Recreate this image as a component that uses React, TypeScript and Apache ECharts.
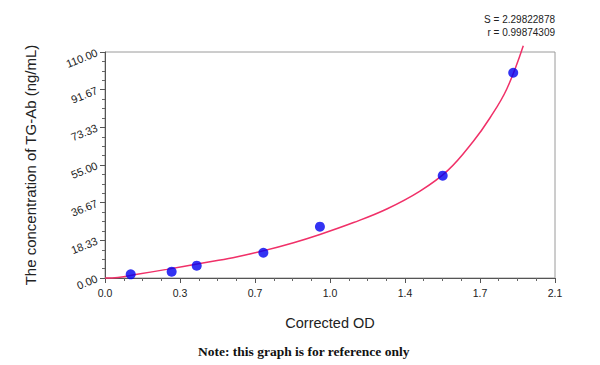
import React, { useEffect, useRef } from "react";
import * as echarts from "echarts";

const xTickLabels = ["0.0", "0.3", "0.7", "1.0", "1.4", "1.7", "2.1"];
const yTickLabels = ["0.00", "18.33", "36.67", "55.00", "73.33", "91.67", "110.00"];

const pointX = [0.12, 0.311, 0.428, 0.739, 1.003, 1.576, 1.905];
const pointY = [1.8, 3.07, 6.0, 12.3, 25.0, 49.8, 99.9];

const curveX = [0, 0.06, 0.15, 0.288, 0.443, 0.597, 0.737, 0.88, 1.003, 1.16, 1.315, 1.47, 1.6, 1.719, 1.797, 1.875, 1.952];
const curveY = [0, 0.3, 1.8, 4.2, 7.1, 9.9, 13.2, 17.2, 21.2, 27.0, 33.6, 42.3, 52.4, 66.6, 78.0, 92.0, 113.0];

const statS = "S = 2.29822878";
const statR = "r = 0.99874309";
const xTitle = "Corrected OD";
const yTitle = "The concentration of TG-Ab (ng/mL)";
const note = "Note: this graph is for reference only";

const X_INTERVAL = 0.35;
const Y_INTERVAL = 110 / 6;

export default function App() {
  const ref = useRef<HTMLDivElement>(null);
  useEffect(() => {
    document.body.style.margin = "0";
    if (!ref.current) return;
    const chart = echarts.init(ref.current, null, { renderer: "svg" });
    const font = "'Liberation Sans', Arial, sans-serif";
    chart.setOption({
      animation: false,
      backgroundColor: "#ffffff",
      grid: {
        left: 105,
        right: 45,
        top: 52,
        bottom: 87,
        show: true,
        borderColor: "#9a9a9a",
        borderWidth: 1,
        containLabel: false,
      },
      xAxis: {
        type: "value",
        min: 0,
        max: 2.1,
        interval: X_INTERVAL,
        name: xTitle,
        nameLocation: "middle",
        nameGap: 37,
        nameTextStyle: { fontFamily: font, fontSize: 14.5, color: "#222" },
        axisLine: { show: true, lineStyle: { color: "#555", width: 1 } },
        axisTick: { show: true, inside: false, length: 5, lineStyle: { color: "#555" } },
        minorTick: { show: true, splitNumber: 4, length: 3, lineStyle: { color: "#666" } },
        splitLine: { show: false },
        axisLabel: {
          fontFamily: font,
          fontSize: 10.5,
          color: "#222",
          margin: 9,
          formatter: (v: number) => xTickLabels[Math.round(v / X_INTERVAL)] ?? "",
        },
      },
      yAxis: {
        type: "value",
        min: 0,
        max: 110,
        interval: Y_INTERVAL,
        name: yTitle,
        nameLocation: "middle",
        nameGap: 67,
        nameTextStyle: { fontFamily: font, fontSize: 15, color: "#222" },
        axisLine: { show: true, lineStyle: { color: "#555", width: 1 } },
        axisTick: { show: true, inside: false, length: 5, lineStyle: { color: "#555" } },
        minorTick: { show: true, splitNumber: 4, length: 3, lineStyle: { color: "#666" } },
        splitLine: { show: false },
        axisLabel: {
          fontFamily: font,
          fontSize: 11,
          color: "#222",
          rotate: 22,
          margin: 8,
          formatter: (v: number) => yTickLabels[Math.round(v / Y_INTERVAL)] ?? "",
        },
      },
      series: [
        {
          type: "line",
          data: curveX.map((x, i) => [x, curveY[i]]),
          smooth: 0.4,
          showSymbol: false,
          clip: false,
          lineStyle: { color: "#f03068", width: 1.5 },
          z: 2,
        },
        {
          type: "scatter",
          data: pointX.map((x, i) => [x, pointY[i]]),
          symbolSize: 10,
          itemStyle: { color: "#0000f0" },
          z: 3,
        },
      ],
      graphic: [
        {
          type: "text",
          right: 45,
          top: 14,
          style: { text: statS, fontFamily: font, fontSize: 10, fill: "#222", align: "right" },
        },
        {
          type: "text",
          right: 45,
          top: 27,
          style: { text: statR, fontFamily: font, fontSize: 10, fill: "#222", align: "right" },
        },
        {
          type: "text",
          left: 198,
          top: 344,
          style: {
            text: note,
            fontFamily: "'Liberation Serif', 'Times New Roman', serif",
            fontSize: 13.5,
            fontWeight: "bold",
            fill: "#111",
          },
        },
      ],
    });
    return () => chart.dispose();
  }, []);
  return <div ref={ref} style={{ width: 600, height: 365 }} />;
}
